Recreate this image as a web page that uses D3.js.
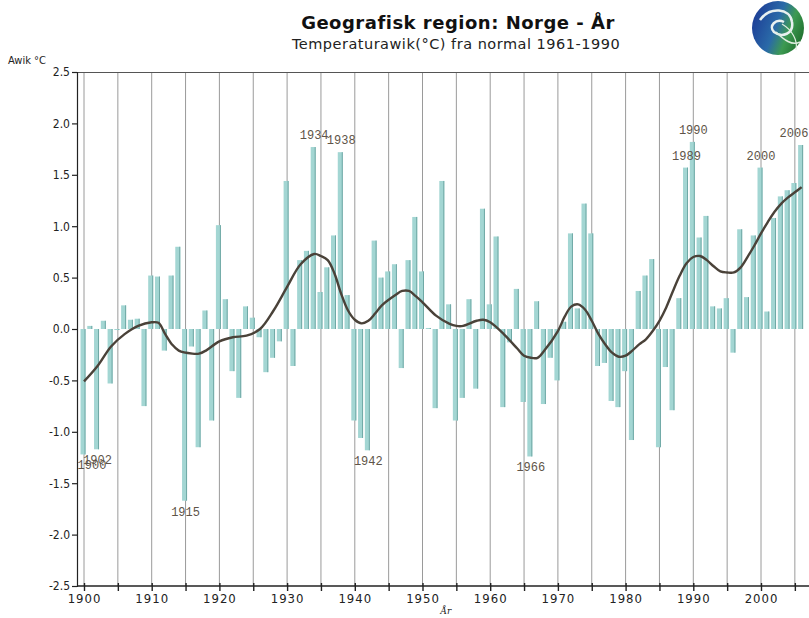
<!DOCTYPE html>
<html>
<head>
<meta charset="utf-8">
<script src="https://cdn.jsdelivr.net/npm/d3@7"></script>
<style>
  body { margin: 0; background: #fff; }
  svg { display: block; }
</style>
</head>
<body>
<svg id="chart" width="809" height="618"></svg>
<script>
// Yearly temperature deviation, Norway, 1900-2006
const firstYear = 1900;
const anomalies = [
  -1.22, 0.03, -1.17, 0.08, -0.53, -0.01, 0.23, 0.09, 0.10, -0.75,   // 1900-1909
   0.52, 0.51, -0.21, 0.52, 0.80, -1.67, -0.17, -1.15, 0.18, -0.89,  // 1910-1919
   1.01, 0.29, -0.41, -0.67, 0.22, 0.11, -0.08, -0.42, -0.28, -0.12, // 1920-1929
   1.44, -0.36, 0.67, 0.76, 1.77, 0.36, 0.60, 0.91, 1.72, 0.33,      // 1930-1939
  -0.89, -1.06, -1.18, 0.86, 0.50, 0.56, 0.63, -0.38, 0.67, 1.09,    // 1940-1949
   0.56, 0.01, -0.77, 1.44, 0.24, -0.89, -0.67, 0.29, -0.58, 1.17,   // 1950-1959
   0.24, 0.90, -0.76, -0.13, 0.39, -0.71, -1.24, 0.27, -0.73, -0.28, // 1960-1969
  -0.50, 0.07, 0.93, 0.20, 1.22, 0.93, -0.36, -0.33, -0.70, -0.76,   // 1970-1979
  -0.41, -1.08, 0.37, 0.52, 0.68, -1.15, -0.37, -0.79, 0.30, 1.57,   // 1980-1989
   1.82, 0.89, 1.10, 0.22, 0.20, 0.30, -0.23, 0.97, 0.31, 0.91,      // 1990-1999
   1.57, 0.17, 1.08, 1.29, 1.35, 1.42, 1.79                          // 2000-2006
];

// Smoothed curve
const trendYears = [1900, 1902, 1904, 1906, 1908, 1910, 1911, 1912, 1913, 1914, 1916, 1917, 1918, 1920,
  1922, 1924, 1926, 1928, 1930, 1932, 1934, 1935, 1936, 1937, 1938, 1939, 1940, 1941, 1942, 1943, 1944,
  1946, 1947, 1948, 1949, 1950, 1952, 1954, 1955, 1956, 1958, 1959, 1960, 1962, 1964, 1965, 1966, 1967,
  1968, 1970, 1971, 1972, 1973, 1974, 1975, 1976, 1977, 1978, 1979, 1980, 1981, 1982, 1983, 1984, 1985,
  1986, 1987, 1988, 1989, 1990, 1991, 1992, 1993, 1994, 1995, 1996, 1997, 1998, 1999, 2000, 2001, 2002,
  2003, 2004, 2005, 2006];
const trendValues = [-0.51, -0.36, -0.17, -0.05, 0.03, 0.065, 0.06, -0.05, -0.15, -0.21, -0.24, -0.24, -0.21, -0.12,
  -0.08, -0.065, 0.0, 0.18, 0.41, 0.63, 0.73, 0.71, 0.67, 0.54, 0.34, 0.18, 0.09, 0.055, 0.08, 0.15, 0.23,
  0.33, 0.37, 0.37, 0.32, 0.26, 0.13, 0.05, 0.03, 0.03, 0.08, 0.09, 0.065, -0.05, -0.19, -0.26, -0.28, -0.28,
  -0.21, -0.02, 0.12, 0.22, 0.24, 0.19, 0.08, -0.05, -0.15, -0.23, -0.27, -0.26, -0.21, -0.15, -0.10, -0.02, 0.08,
  0.21, 0.37, 0.52, 0.64, 0.70, 0.71, 0.67, 0.61, 0.56, 0.55, 0.55, 0.60, 0.70, 0.81, 0.93, 1.04, 1.14,
  1.22, 1.28, 1.33, 1.38];

const labelledYears = [1900, 1902, 1915, 1934, 1938, 1942, 1966, 1989, 1990, 2000, 2006];
const yTicks = [2.5, 2.0, 1.5, 1.0, 0.5, 0.0, -0.5, -1.0, -1.5, -2.0, -2.5];
const xTickLabels = [1900, 1910, 1920, 1930, 1940, 1950, 1960, 1970, 1980, 1990, 2000];

const years = anomalies.map((d, i) => firstYear + i);
const data = years.map((yr, i) => ({ year: yr, value: anomalies[i] }));
const trend = trendYears.map((yr, i) => ({ year: yr, value: trendValues[i] }));

const svg = d3.select('#chart');
const plotLeft = 77, plotRight = 808, plotTop = 72, plotBottom = 586;

const x = d3.scaleLinear().domain([1900, 2000]).range([84, 761]);
const y = d3.scaleLinear().domain([-2.5, 2.5]).range([plotBottom, plotTop]);

// Title
svg.append('text')
  .attr('x', 458).attr('y', 29)
  .attr('text-anchor', 'middle')
  .style('font-family', 'DejaVu Sans, sans-serif')
  .style('font-weight', 'bold')
  .style('font-size', '18px')
  .style('letter-spacing', '0.5px')
  .attr('fill', '#111')
  .text('Geografisk region: Norge - År');

svg.append('text')
  .attr('x', 456).attr('y', 49)
  .attr('text-anchor', 'middle')
  .style('font-family', 'DejaVu Sans, sans-serif')
  .style('font-size', '14.5px')
  .style('letter-spacing', '0.5px')
  .attr('fill', '#222')
  .text('Temperaturawik(°C) fra normal 1961-1990');

// Logo
const defs = svg.append('defs');
const grad = defs.append('linearGradient')
  .attr('id', 'logoGrad')
  .attr('x1', '0%').attr('y1', '30%').attr('x2', '100%').attr('y2', '70%');
grad.append('stop').attr('offset', '0%').attr('stop-color', '#1d3d96');
grad.append('stop').attr('offset', '45%').attr('stop-color', '#2a6aa8');
grad.append('stop').attr('offset', '70%').attr('stop-color', '#3d9a52');
grad.append('stop').attr('offset', '100%').attr('stop-color', '#1f6e2c');

const logo = svg.append('g').attr('transform', 'translate(778,28)');
logo.append('ellipse').attr('rx', 26).attr('ry', 27).attr('fill', 'url(#logoGrad)');
logo.append('path')
  .attr('d', 'M-18,-8 C-8,-22 12,-20 14,-6 C16,6 4,10 -4,4 C-10,-2 -2,-10 6,-6')
  .attr('fill', 'none').attr('stroke', '#e8f0f0').attr('stroke-width', 2.5);
logo.append('path')
  .attr('d', 'M-2,4 C6,12 14,18 22,14')
  .attr('fill', 'none').attr('stroke', '#dfeee0').attr('stroke-width', 1.5);
logo.append('path')
  .attr('d', 'M4,-4 C14,2 20,12 18,22')
  .attr('fill', 'none').attr('stroke', '#dfeee0').attr('stroke-width', 1.2);

// Vertical grid lines every 5 years
const gridYears = d3.range(1900, 2006, 5);
svg.append('g')
  .selectAll('line')
  .data(gridYears)
  .enter()
  .append('line')
  .attr('x1', d => x(d)).attr('x2', d => x(d))
  .attr('y1', plotTop).attr('y2', plotBottom)
  .attr('stroke', '#9a9a9a')
  .attr('stroke-width', 1);

// Top border
svg.append('line')
  .attr('x1', plotLeft).attr('x2', plotRight + 1)
  .attr('y1', plotTop + 0.5).attr('y2', plotTop + 0.5)
  .attr('stroke', '#555').attr('stroke-width', 1.2);

// Bars
const barW = 5;
const bars = svg.append('g');
bars.selectAll('rect')
  .data(data)
  .enter()
  .append('rect')
  .attr('x', d => x(d.year) - 3.5)
  .attr('width', barW)
  .attr('y', d => Math.min(y(d.value), y(0)))
  .attr('height', d => Math.abs(y(d.value) - y(0)))
  .attr('fill', '#a3d6d3');
bars.selectAll('line')
  .data(data)
  .enter()
  .append('line')
  .attr('x1', d => x(d.year) + 1)
  .attr('x2', d => x(d.year) + 1)
  .attr('y1', d => y(d.value))
  .attr('y2', y(0))
  .attr('stroke', '#6fa8a5')
  .attr('stroke-width', 1);

// Smoothed curve
const line = d3.line()
  .x(d => x(d.year))
  .y(d => y(d.value))
  .curve(d3.curveCatmullRom);

svg.append('path')
  .datum(trend)
  .attr('d', line)
  .attr('fill', 'none')
  .attr('stroke', '#4a4239')
  .attr('stroke-width', 2.4);

// Year labels for extremes (kept inside the plot edges)
svg.append('g')
  .selectAll('text')
  .data(data.filter(d => labelledYears.includes(d.year)))
  .enter()
  .append('text')
  .attr('x', d => Math.min(Math.max(x(d.year), plotLeft + 15), plotRight - 14))
  .attr('y', d => d.value >= 0 ? y(d.value) - 8 : y(d.value) + 15)
  .attr('text-anchor', 'middle')
  .style('font-family', 'Liberation Mono, monospace')
  .style('font-size', '12px')
  .attr('fill', '#5e5448')
  .text(d => d.year);

// Y axis
const yAxis = svg.append('g')
  .attr('transform', `translate(${plotLeft},0)`)
  .call(d3.axisLeft(y).tickValues(yTicks).tickSize(5).tickFormat(d => d.toFixed(1)));
yAxis.select('.domain').attr('stroke', '#222').attr('stroke-width', 1.2);
yAxis.selectAll('.tick line').attr('stroke', '#222').attr('stroke-width', 1.2);
yAxis.selectAll('.tick text')
  .attr('x', -7)
  .style('font-family', 'DejaVu Sans Condensed, DejaVu Sans, sans-serif')
  .style('font-stretch', 'condensed')
  .style('font-size', '12px')
  .attr('fill', '#222');

svg.append('text')
  .attr('x', 8).attr('y', 64)
  .style('font-family', 'DejaVu Sans Condensed, DejaVu Sans, sans-serif')
  .style('font-stretch', 'condensed')
  .style('font-size', '11px')
  .attr('fill', '#222')
  .text('Awik °C');

// X axis
const xAxis = svg.append('g')
  .attr('transform', `translate(0,${plotBottom})`)
  .call(d3.axisBottom(x).tickValues(gridYears).tickSize(5)
    .tickFormat(d => xTickLabels.includes(d) ? d : ''));
xAxis.select('.domain').attr('d', `M${plotLeft},0H${plotRight + 1}`).attr('stroke', '#222').attr('stroke-width', 1.4);
xAxis.selectAll('.tick line').attr('y1', -3).attr('stroke', '#222').attr('stroke-width', 1.4);
xAxis.selectAll('.tick text')
  .attr('y', 8)
  .style('font-family', 'DejaVu Sans Condensed, DejaVu Sans, sans-serif')
  .style('font-stretch', 'condensed')
  .style('font-size', '13px')
  .style('letter-spacing', '1px')
  .attr('fill', '#222');

svg.append('text')
  .attr('x', 446).attr('y', 614)
  .attr('text-anchor', 'middle')
  .style('font-family', 'DejaVu Serif, serif')
  .style('font-style', 'italic')
  .style('font-size', '9px')
  .attr('fill', '#222')
  .text('År');
</script>
</body>
</html>
